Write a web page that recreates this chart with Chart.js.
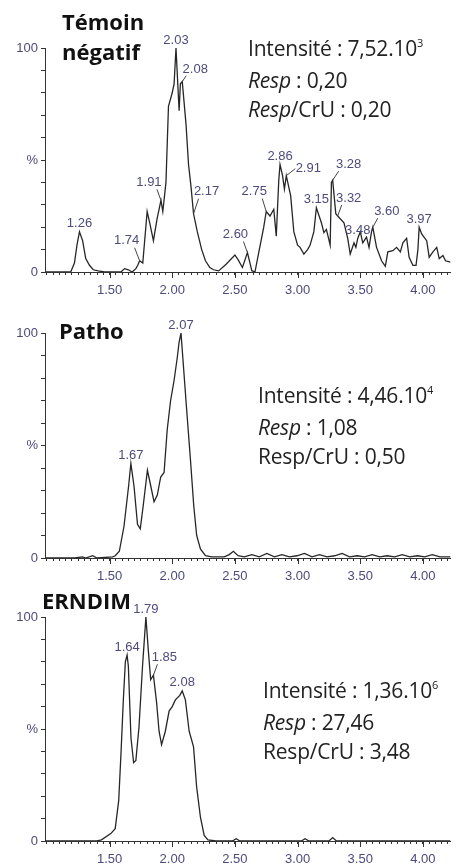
<!DOCTYPE html>
<html>
<head>
<meta charset="utf-8">
<script src="https://cdn.jsdelivr.net/npm/chart.js@4/dist/chart.umd.min.js"></script>
<style>
  body { margin: 0; background: #fff; }
  #page { position: relative; width: 456px; height: 866px; overflow: hidden; }
  .panel { position: absolute; left: 0; width: 456px; }
  .titre { position: absolute; font: bold 22px "Open Sans", sans-serif; line-height: 30px; color: #111; z-index: 2; }
  .infos { position: absolute; font: 21px "Open Sans", sans-serif; line-height: 29px; color: #222; z-index: 2; white-space: nowrap; letter-spacing: -0.2px; }
  .infos sup { font-size: 11px; vertical-align: 0; position: relative; top: -9px; }
</style>
</head>
<body>
<div id="page">
  <div class="panel" style="top:0;height:300px"><canvas id="c1" width="456" height="300"></canvas></div>
  <div class="panel" style="top:300px;height:290px"><canvas id="c2" width="456" height="290"></canvas></div>
  <div class="panel" style="top:590px;height:276px"><canvas id="c3" width="456" height="276"></canvas></div>

  <div class="titre" style="left:62px;top:6px">Témoin<br>négatif</div>
  <div class="infos" style="left:248px;top:34px">Intensité : 7,52.10<sup>3</sup><br><i>Resp</i> : 0,20<br><i>Resp</i>/CrU : 0,20</div>

  <div class="titre" style="left:59px;top:315px">Patho</div>
  <div class="infos" style="left:258px;top:381px">Intensité : 4,46.10<sup>4</sup><br><i>Resp</i> : 1,08<br>Resp/CrU : 0,50</div>

  <div class="titre" style="left:42px;top:585px">ERNDIM</div>
  <div class="infos" style="left:263px;top:676px">Intensité : 1,36.10<sup>6</sup><br><i>Resp</i> : 27,46<br>Resp/CrU : 3,48</div>
</div>
<script>
// temps de rétention (min) et intensité relative (%)
const tempsTemoin = [0.985, 1.19, 1.22, 1.24, 1.26, 1.285, 1.31, 1.34, 1.37, 1.41, 1.46, 1.59, 1.62, 1.65, 1.68, 1.71, 1.725, 1.74, 1.765, 1.80,
  1.82, 1.85, 1.88, 1.895, 1.91, 1.925, 1.95, 1.97, 2.00, 2.015, 2.03, 2.055, 2.065, 2.08, 2.11, 2.13, 2.15, 2.17, 2.20, 2.235,
  2.265, 2.30, 2.33, 2.37, 2.43, 2.50, 2.525, 2.56, 2.60, 2.635, 2.66, 2.69, 2.73, 2.75, 2.78, 2.81, 2.83, 2.85, 2.86, 2.88,
  2.895, 2.91, 2.945, 2.97, 3.00, 3.02, 3.05, 3.08, 3.10, 3.13, 3.15, 3.19, 3.21, 3.23, 3.26, 3.27, 3.28, 3.305, 3.32, 3.37,
  3.40, 3.42, 3.45, 3.465, 3.48, 3.50, 3.52, 3.55, 3.57, 3.59, 3.60, 3.63, 3.67, 3.70, 3.72, 3.76, 3.79, 3.82, 3.84, 3.87,
  3.89, 3.92, 3.945, 3.96, 3.97, 3.99, 4.03, 4.05, 4.08, 4.11, 4.13, 4.16, 4.18, 4.22];
const intensiteTemoin = [0, 0, 4, 12, 18, 14, 6, 3, 1, 0.5, 0, 0, 1.5, 1, 0, 1.5, 3, 5, 4, 27,
  22, 14, 24, 28, 32, 27, 40, 74, 80, 84, 100, 72, 84, 85, 66, 48, 38, 26, 18, 10,
  5, 2, 1, 0.5, 3.5, 7.6, 5.5, 2, 8.7, 0.6, 0, 8.7, 20, 27, 25, 28, 16, 41, 48, 43,
  37, 43, 34, 18, 12, 11, 8, 10, 12, 18, 28.7, 22, 17.6, 19, 12, 40, 41, 26, 25, 22,
  15, 8, 13, 11, 15, 18, 13, 15.6, 11, 18, 20, 11, 5, 2.5, 9, 9.5, 11, 9, 13, 15,
  6.6, 3, 3, 10, 20, 17, 14, 6.6, 9, 11, 6, 7.4, 5, 4.4];
const picsTemoin = [1.26, 1.74, 1.91, 2.03, 2.08, 2.17, 2.60, 2.75, 2.86, 2.91, 3.15, 3.28, 3.32, 3.48, 3.60, 3.97];

const tempsPatho = [0.985, 1.22, 1.285, 1.31, 1.365, 1.40, 1.525, 1.545, 1.578, 1.615, 1.652, 1.67, 1.695, 1.723, 1.745, 1.768,
  1.802, 1.825, 1.855, 1.881, 1.908, 1.935, 1.96, 1.987, 2.015, 2.04, 2.055, 2.07, 2.115, 2.145, 2.172, 2.195, 2.225, 2.265,
  2.315, 2.415, 2.455, 2.488, 2.525, 2.575, 2.635, 2.695, 2.755, 2.815, 2.875, 2.935, 2.995, 3.055, 3.115, 3.175, 3.235,
  3.295, 3.355, 3.415, 3.475, 3.535, 3.595, 3.655, 3.715, 3.775, 3.835, 3.895, 3.955, 4.015, 4.075, 4.135, 4.22];
const intensitePatho = [0, 0, 0.5, 0, 1, 0, 0.5, 1, 3, 14, 32, 42, 32, 15, 13, 23,
  39, 33, 25, 28, 36, 38, 57, 70, 79, 89, 96, 100, 66, 44, 23, 10, 4, 1,
  0.5, 0.5, 1.5, 3, 1, 0.5, 1.5, 0.5, 2, 0.5, 1.5, 0.5, 1, 2, 0.5, 1.5, 0.5,
  1, 2, 0.5, 1, 0.5, 1.5, 0.5, 1, 0.5, 1.5, 0.5, 1, 0.5, 1.5, 0.5, 0.5];
const picsPatho = [1.67, 2.07];

const tempsErndim = [0.985, 1.40, 1.435, 1.51, 1.545, 1.573, 1.592, 1.61, 1.626, 1.64, 1.65, 1.671, 1.692, 1.71, 1.735, 1.763,
  1.779, 1.79, 1.808, 1.828, 1.85, 1.875, 1.895, 1.915, 1.945, 1.975, 2.00, 2.025, 2.06, 2.08, 2.105, 2.135, 2.17, 2.195,
  2.225, 2.255, 2.285, 2.35, 2.48, 2.51, 2.54, 2.70, 3.03, 3.06, 3.09, 3.25, 3.28, 3.31, 3.60, 4.22];
const intensiteErndim = [0, 0, 0.5, 3.3, 5.5, 18, 40, 63, 80, 83, 78, 46, 35, 36, 51, 78,
  91, 100, 86, 72, 74, 62, 49, 43, 49, 58, 60, 63, 65, 67, 63, 49, 42, 24,
  10.7, 2.5, 0.5, 0, 0, 1, 0, 0, 0, 1, 0, 0, 1.5, 0, 0, 0];
const picsErndim = [1.64, 1.79, 1.85, 2.08];

// graduations chiffrées de l'axe des temps
const graduationsTemps = [1.5, 2.0, 2.5, 3.0, 3.5, 4.0];

// placement des étiquettes de pics (décalage texte / trait de rappel)
const decalages = {
  '1.74': { dx: -13, dy: -20, lx: -5, ly: -13 },
  '1.91': { dx: -12, dy: -18, lx: -4, ly: -11 },
  '2.08': { dx: 13, dy: -12, lx: 4, ly: -6 },
  '2.17': { dx: 13, dy: -22, lx: 5, ly: -15 },
  '2.60': { dx: -12, dy: -18, lx: -4, ly: -11 },
  '2.75': { dx: -12, dy: -20, lx: -4, ly: -13 },
  '2.91': { dx: 22, dy: -7, lx: 9, ly: -7 },
  '3.28': { dx: 16, dy: -16, lx: 6, ly: -9 },
  '3.32': { dx: 11, dy: -18, lx: 4, ly: -11 },
  '3.60': { dx: 14, dy: -16, lx: 5, ly: -9 }
};
const decalagesErndim = { '1.85': { dx: 11, dy: -18, lx: 4, ly: -11 } };

const couleurTexte = '#4b4b7d';
const estGraduee = v => graduationsTemps.some(g => Math.abs(g - v) < 1e-6);

const etiquettesPics = {
  id: 'etiquettesPics',
  afterDatasetsDraw(chart, args, opts) {
    const { ctx, scales: { x, y } } = chart;
    const pts = chart.data.datasets[0].data;
    ctx.save();
    ctx.font = '13px "Liberation Sans", Arial, sans-serif';
    ctx.textAlign = 'center';
    ctx.textBaseline = 'middle';
    ctx.strokeStyle = '#444';
    ctx.lineWidth = 1;
    opts.pics.forEach(t => {
      const p = pts.find(d => Math.abs(d.x - t) < 1e-9);
      if (!p) return;
      const px = x.getPixelForValue(p.x), py = y.getPixelForValue(p.y);
      const s = opts.decalages[t.toFixed(2)] || { dx: 0, dy: -8 };
      if (s.lx !== undefined) {
        ctx.beginPath();
        ctx.moveTo(px, py);
        ctx.lineTo(px + s.lx, py + s.ly);
        ctx.stroke();
      }
      ctx.fillStyle = couleurTexte;
      ctx.fillText(t.toFixed(2), px + s.dx, py + s.dy);
    });
    // graduations principales plus longues
    ctx.strokeStyle = '#333';
    x.ticks.forEach(tk => {
      if (estGraduee(tk.value)) {
        const gx = Math.round(x.getPixelForValue(tk.value)) + 0.5;
        ctx.beginPath();
        ctx.moveTo(gx, x.top);
        ctx.lineTo(gx, x.top + 6);
        ctx.stroke();
      }
    });
    ctx.restore();
  }
};

function creerGraphique(id, temps, intensite, pics, dec, haut, hautAxe) {
  new Chart(document.getElementById(id), {
    type: 'line',
    data: {
      datasets: [{
        data: temps.map((t, i) => ({ x: t, y: intensite[i] })),
        borderColor: '#262626',
        borderWidth: 1.3,
        pointRadius: 0,
        tension: 0,
        fill: false
      }]
    },
    options: {
      responsive: false,
      animation: false,
      layout: { padding: { top: haut, right: 1, left: 0, bottom: 0 } },
      plugins: {
        legend: { display: false },
        tooltip: { enabled: false },
        etiquettesPics: { pics: pics, decalages: dec }
      },
      scales: {
        x: {
          type: 'linear',
          min: 0.985,
          max: 4.22,
          afterFit: s => { s.height = hautAxe; },
          border: { color: '#333', width: 1 },
          grid: { drawOnChartArea: false, drawTicks: true, tickLength: 3, tickColor: '#333' },
          ticks: {
            stepSize: 0.05,
            includeBounds: false,
            autoSkip: false,
            maxRotation: 0,
            padding: 8,
            color: couleurTexte,
            font: { family: '"Liberation Sans", Arial, sans-serif', size: 13 },
            callback: v => (estGraduee(v) ? v.toFixed(2) : '')
          }
        },
        y: {
          min: 0,
          max: 100,
          afterFit: s => { s.width = 45; },
          border: { color: '#333', width: 1 },
          grid: { drawOnChartArea: false, drawTicks: true, tickLength: 4, tickColor: '#333' },
          ticks: {
            stepSize: 10,
            autoSkip: false,
            padding: 3,
            color: couleurTexte,
            font: { family: '"Liberation Sans", Arial, sans-serif', size: 13 },
            callback: v => (v === 0 ? '0' : v === 50 ? '%' : v === 100 ? '100' : '')
          }
        }
      }
    },
    plugins: [etiquettesPics]
  });
}

creerGraphique('c1', tempsTemoin, intensiteTemoin, picsTemoin, decalages, 48, 28);
creerGraphique('c2', tempsPatho, intensitePatho, picsPatho, {}, 33, 32);
creerGraphique('c3', tempsErndim, intensiteErndim, picsErndim, decalagesErndim, 27, 25);
</script>
</body>
</html>
